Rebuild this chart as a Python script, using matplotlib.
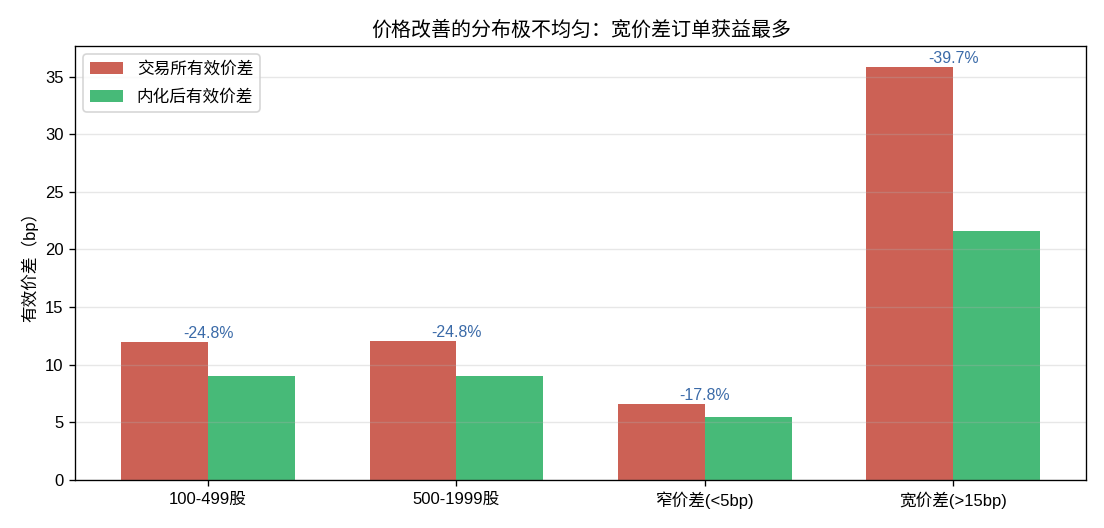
import matplotlib
matplotlib.use('Agg')
import matplotlib.pyplot as plt
import numpy as np

plt.rcParams['font.family'] = ['Liberation Sans', 'Noto Sans CJK SC', 'DejaVu Sans']

# 数据
categories = ['100-499股', '500-1999股', '窄价差(<5bp)', '宽价差(>15bp)']
exchange_spread = [12.0, 12.07, 6.6, 35.87]
internal_spread = [9.02, 9.06, 5.42, 21.63]
changes = ['-24.8%', '-24.8%', '-17.8%', '-39.7%']

x = np.arange(len(categories))
w = 0.35

fig, ax = plt.subplots(figsize=(9.2, 4.4), dpi=120)
ax.bar(x - w/2, exchange_spread, w, color='#c0392b', alpha=0.8, label='交易所有效价差')
ax.bar(x + w/2, internal_spread, w, color='#27ae60', alpha=0.85, label='内化后有效价差')

# 降幅标注
for i in range(len(categories)):
    ax.text(x[i], max(exchange_spread[i], internal_spread[i]) + 0.3, changes[i],
            ha='center', va='baseline', fontsize=9.5, color='#3a6aa8')

ax.set_xticks(x)
ax.set_xticklabels(categories, fontsize=10)
ax.tick_params(axis='y', labelsize=10)
ax.set_ylabel('有效价差（bp）', fontsize=10)
ax.set_title('价格改善的分布极不均匀：宽价差订单获益最多', fontsize=12)
ax.set_ylim(0, max(exchange_spread) * 1.05)
ax.legend(loc='upper left', fontsize=10, labelspacing=0.75)
ax.grid(axis='y', alpha=0.3)

plt.subplots_adjust(left=0.068, right=0.984, top=0.913, bottom=0.091)
plt.savefig('out.png', dpi=120)
